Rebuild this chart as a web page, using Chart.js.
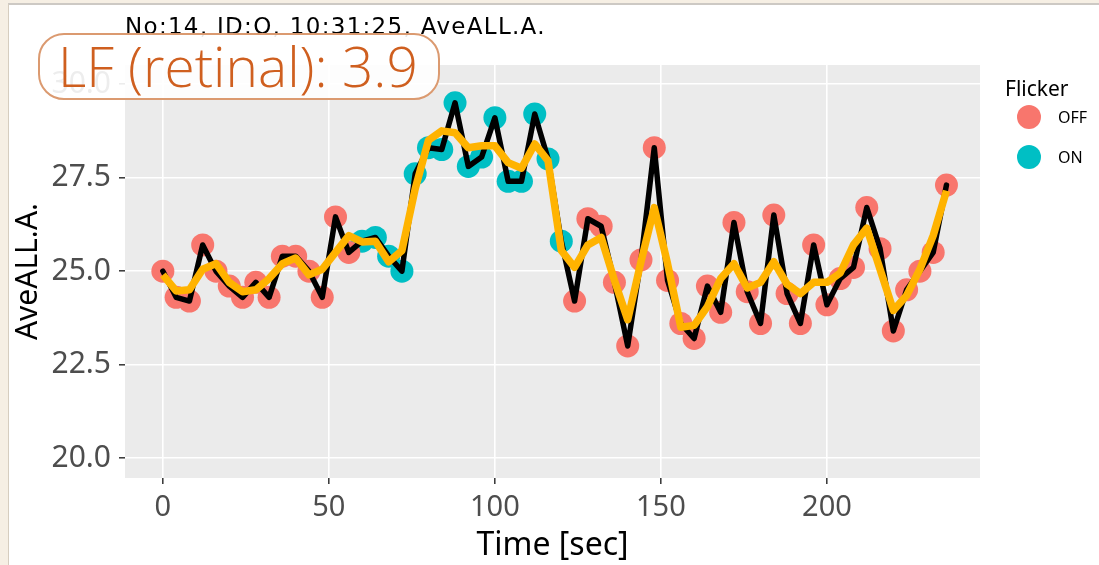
<!DOCTYPE html>
<html>
<head>
<meta charset="utf-8">
<script src="https://cdn.jsdelivr.net/npm/chart.js@4.4.1/dist/chart.umd.min.js"></script>
<style>
html, body { margin: 0; padding: 0; width: 1099px; height: 565px; overflow: hidden; background: #f6efe4; font-family: "Noto Sans", sans-serif; }
#frame { position: absolute; left: 8px; top: 3px; width: 1091px; height: 562px; background: #fff; border-left: 1px solid #d6cdbf; border-top: 2px solid #cdc9c4; box-sizing: border-box; }
#chart { position: absolute; left: 0; top: 0; }
#title { position: absolute; left: 125px; top: 13px; font-family: "DejaVu Sans", sans-serif; font-size: 23px; letter-spacing: 1.3px; color: #000; white-space: nowrap; }
#badge { position: absolute; left: 38px; top: 33px; width: 402px; height: 67px; box-sizing: border-box; border: 2px solid #db9a70; border-radius: 26px; background: rgba(255,255,255,0.9); color: #cf5f1f; font-family: "Open Sans", "Noto Sans", sans-serif; font-size: 55px; font-weight: 300; line-height: 62px; padding-left: 18px; white-space: nowrap; }
#legend { position: absolute; left: 1005px; top: 76px; color: #000; }
#legend .ttl { font-size: 21px; line-height: 24px; }
#legend .key { position: absolute; left: 12px; width: 24px; height: 24px; border-radius: 50%; }
#legend .lbl { position: absolute; left: 53px; font-size: 16px; line-height: 18px; }
</style>
</head>
<body>
<div id="frame"></div>
<canvas id="chart" width="1099" height="565"></canvas>
<div id="title">No:14, ID:O, 10:31:25, AveALL.A.</div>
<div id="legend">
  <div class="ttl">Flicker</div>
  <div class="key" style="top:29px;background:#F8766D"></div><div class="lbl" style="top:32px">OFF</div>
  <div class="key" style="top:69px;background:#00BFC4"></div><div class="lbl" style="top:72px">ON</div>
</div>
<div id="badge">LF (retinal): 3.9</div>
<script>
const times = [0, 4, 8, 12, 16, 20, 24, 28, 32, 36, 40, 44, 48, 52, 56,
  60, 64, 68, 72, 76, 80, 84, 88, 92, 96, 100, 104, 108, 112, 116, 120,
  124, 128, 132, 136, 140, 144, 148, 152, 156, 160, 164, 168, 172, 176, 180,
  184, 188, 192, 196, 200, 204, 208, 212, 216, 220, 224, 228, 232, 236];
const aveAll = [25.0, 24.3, 24.2, 25.7, 25.0, 24.6, 24.3, 24.7, 24.3, 25.4, 25.4, 25.0, 24.3, 26.45, 25.5,
  25.8, 25.9, 25.4, 25.0, 27.6, 28.3, 28.25, 29.5, 27.8, 28.05, 29.1, 27.4, 27.4, 29.2, 28.0, 25.8,
  24.2, 26.4, 26.2, 24.7, 23.0, 25.3, 28.3, 24.75, 23.6, 23.2, 24.6, 23.9, 26.3, 24.45, 23.6,
  26.5, 24.4, 23.6, 25.7, 24.1, 24.8, 25.1, 26.7, 25.6, 23.4, 24.5, 25.0, 25.5, 27.3];
const flicker = ['OFF', 'OFF', 'OFF', 'OFF', 'OFF', 'OFF', 'OFF', 'OFF', 'OFF', 'OFF', 'OFF', 'OFF', 'OFF', 'OFF', 'OFF',
  'ON', 'ON', 'ON', 'ON', 'ON', 'ON', 'ON', 'ON', 'ON', 'ON', 'ON', 'ON', 'ON', 'ON', 'ON', 'ON',
  'OFF', 'OFF', 'OFF', 'OFF', 'OFF', 'OFF', 'OFF', 'OFF', 'OFF', 'OFF', 'OFF', 'OFF', 'OFF', 'OFF', 'OFF',
  'OFF', 'OFF', 'OFF', 'OFF', 'OFF', 'OFF', 'OFF', 'OFF', 'OFF', 'OFF', 'OFF', 'OFF', 'OFF', 'OFF'];
const smoothed = [24.9, 24.47, 24.5, 25.05, 25.2, 24.7, 24.45, 24.5, 24.8, 25.2, 25.35, 24.9, 25.05, 25.5, 25.95,
  25.78, 25.8, 25.25, 25.55, 27.2, 28.5, 28.75, 28.7, 28.3, 28.35, 28.35, 27.9, 27.75, 28.4, 27.95, 25.55,
  25.1, 25.7, 25.9, 24.75, 23.7, 25.25, 26.7, 25.2, 23.5, 23.55, 24.05, 24.8, 25.2, 24.55, 24.7,
  25.25, 24.65, 24.4, 24.7, 24.7, 24.95, 25.7, 26.15, 25.05, 23.95, 24.35, 25.05, 25.95, 27.15];
const xTicks = [0, 50, 100, 150, 200];
const yTicks = [20, 22.5, 25, 27.5, 30];

const flickerColors = { OFF: '#F8766D', ON: '#00BFC4' };

function pointsFor(state) {
  const pts = [];
  times.forEach((t, i) => {
    if (flicker[i] === state) pts.push({ x: t, y: aveAll[i] });
  });
  return pts;
}

// grey ggplot-style panel behind the plot area
const panelBg = {
  id: 'panelBg',
  beforeDraw(chart) {
    const a = chart.chartArea;
    const ctx = chart.ctx;
    ctx.save();
    ctx.fillStyle = '#EBEBEB';
    ctx.fillRect(a.left, a.top, a.right - a.left, a.bottom - a.top);
    ctx.restore();
  }
};

const ctx = document.getElementById('chart').getContext('2d');
new Chart(ctx, {
  type: 'scatter',
  data: {
    datasets: [
      { label: 'ON', data: pointsFor('ON'), backgroundColor: flickerColors.ON, pointRadius: 11.5, pointBorderWidth: 0, order: 4 },
      { label: 'OFF', data: pointsFor('OFF'), backgroundColor: flickerColors.OFF, pointRadius: 11.5, pointBorderWidth: 0, order: 3 },
      { label: 'raw', data: times.map((t, i) => ({ x: t, y: aveAll[i] })), showLine: true, borderColor: '#000', borderWidth: 5.5, pointRadius: 0, borderJoinStyle: 'round', borderCapStyle: 'round', order: 2 },
      { label: 'smooth', data: times.map((t, i) => ({ x: t, y: smoothed[i] })), showLine: true, borderColor: '#FFB300', borderWidth: 7.5, pointRadius: 0, borderJoinStyle: 'round', borderCapStyle: 'butt', order: 1 }
    ]
  },
  options: {
    responsive: false,
    animation: false,
    layout: { padding: { top: 65, right: 119, left: 0, bottom: 0 } },
    plugins: { legend: { display: false }, tooltip: { enabled: false } },
    scales: {
      x: {
        type: 'linear', min: -11.4, max: 246.1,
        afterBuildTicks: s => { s.ticks = xTicks.map(v => ({ value: v })); },
        afterFit: s => { s.height = 87; },
        border: { display: false },
        grid: { color: '#FFFFFF', lineWidth: 1.6, tickColor: '#333333', tickLength: 6, tickWidth: 1.5 },
        ticks: { color: '#4D4D4D', font: { family: 'Noto Sans', size: 29 }, padding: 6, maxRotation: 0 },
        title: { display: true, text: 'Time [sec]', color: '#000', font: { family: 'Noto Sans', size: 32 }, padding: { top: 0, bottom: 0 } }
      },
      y: {
        type: 'linear', min: 19.47, max: 30.51,
        afterBuildTicks: s => { s.ticks = yTicks.map(v => ({ value: v })); },
        afterFit: s => { s.width = 125; },
        border: { display: false },
        grid: { color: '#FFFFFF', lineWidth: 1.6, tickColor: '#333333', tickLength: 6, tickWidth: 1.5 },
        ticks: { color: '#4D4D4D', font: { family: 'Noto Sans', size: 30 }, padding: 8, callback: v => v.toFixed(1) },
        title: { display: true, text: 'AveALL.A.', color: '#000', font: { family: 'Noto Sans', size: 30 }, padding: { top: 10, bottom: 0 } }
      }
    }
  },
  plugins: [panelBg]
});
</script>
</body>
</html>
